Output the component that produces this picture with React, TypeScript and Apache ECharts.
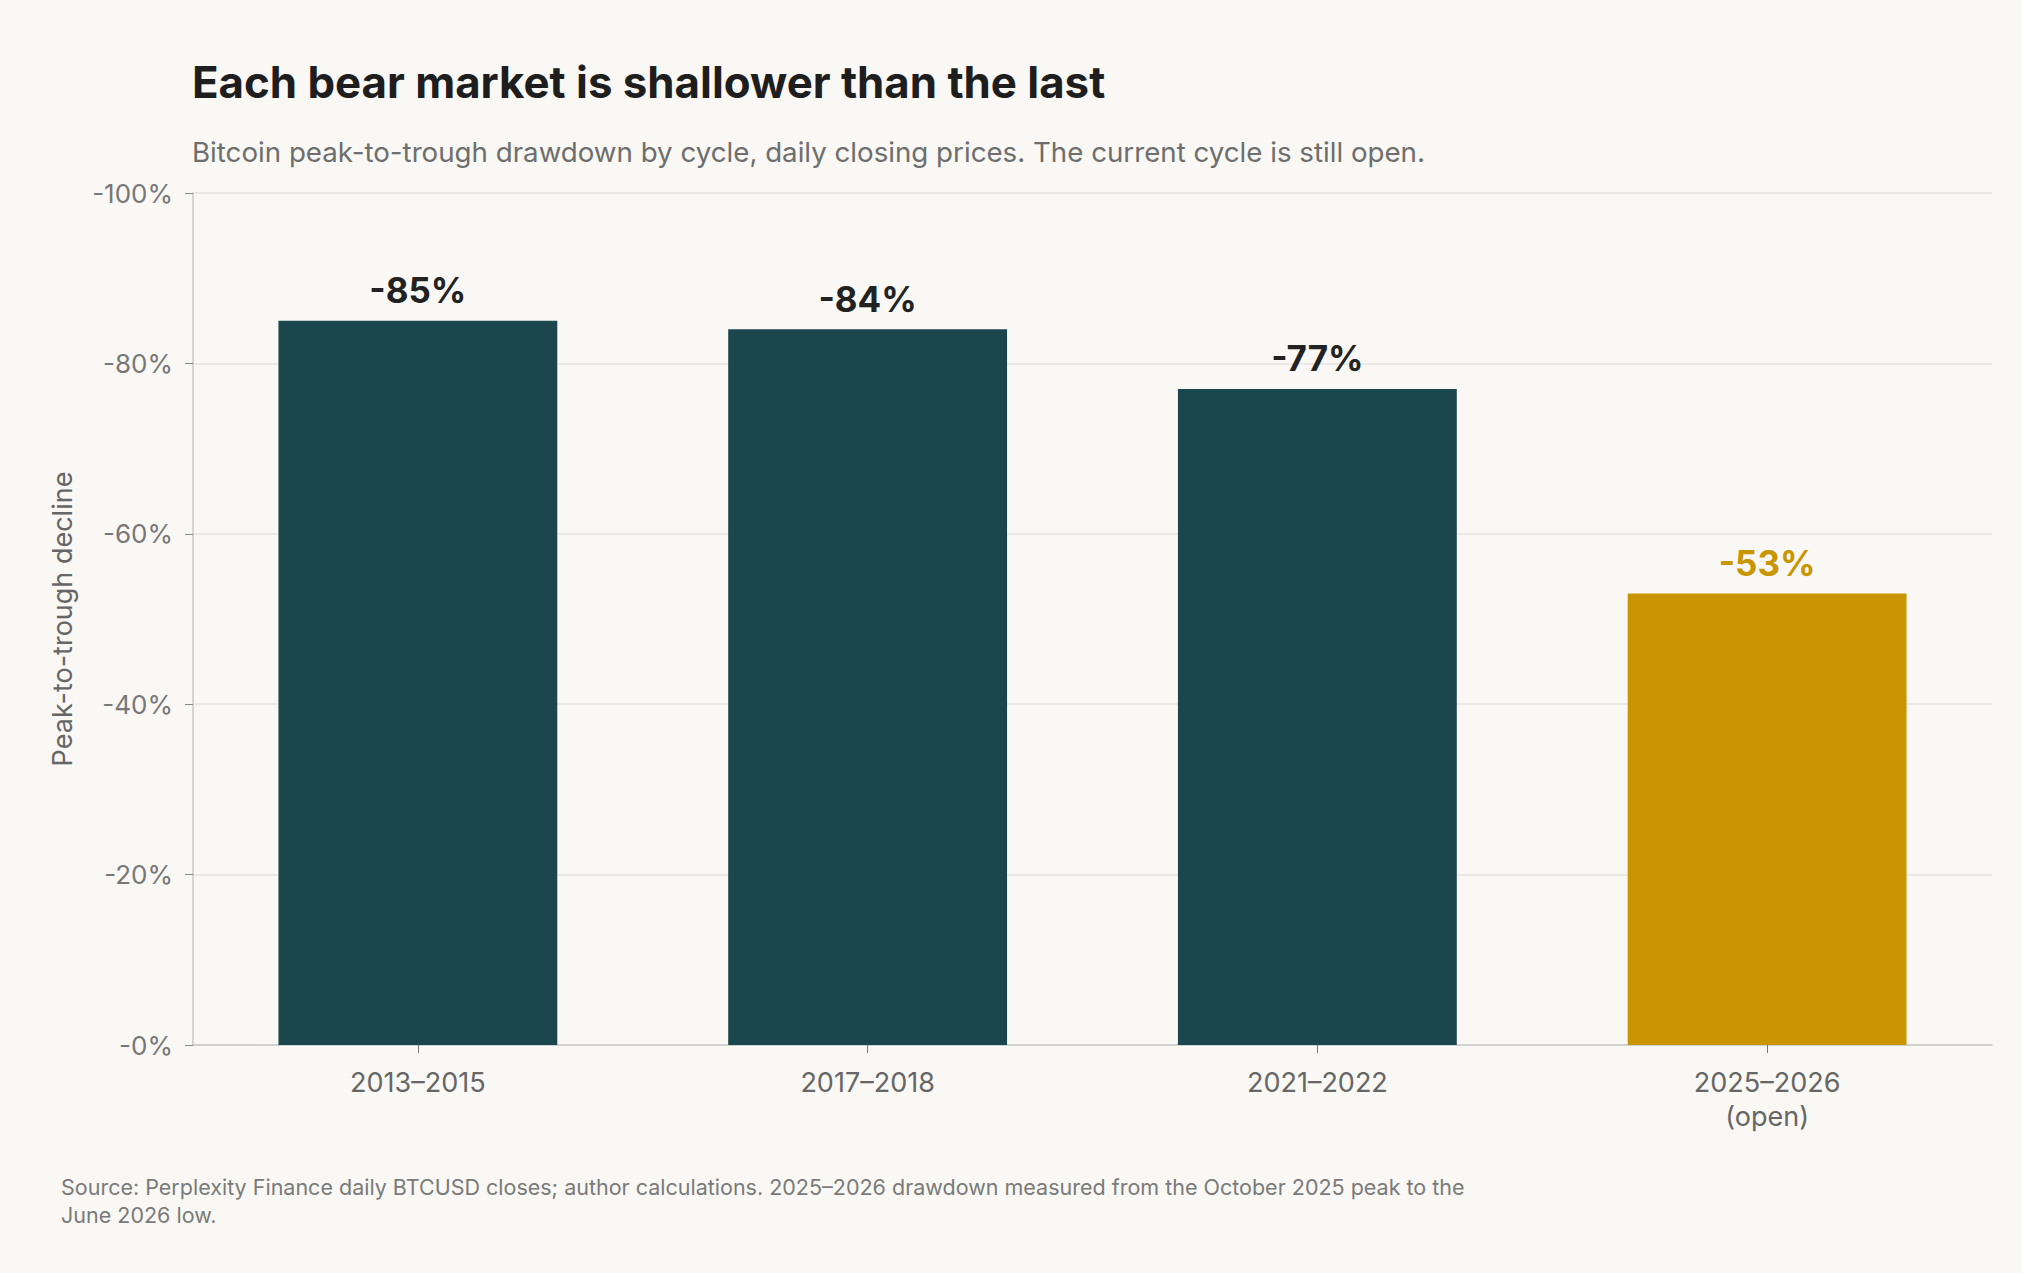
import React, { useEffect, useRef } from "react";
import * as echarts from "echarts";

const categories = ["2013–2015", "2017–2018", "2021–2022", "2025–2026\n(open)"];
const drawdownPct = [85, 84, 77, 53];
const isOpenCycle = [false, false, false, true];
const yTicks = [0, 20, 40, 60, 80, 100];

const titleText = "Each bear market is shallower than the last";
const subtitleText =
  "Bitcoin peak-to-trough drawdown by cycle, daily closing prices. The current cycle is still open.";
const sourceLines = [
  "Source: Perplexity Finance daily BTCUSD closes; author calculations. 2025–2026 drawdown measured from the October 2025 peak to the",
  "June 2026 low.",
];

const FONT = "Inter, 'DejaVu Sans', sans-serif";
const DARK = "#1C464E";
const GOLD = "#C99500";
const BG = "#F9F8F4";

export default function App() {
  const ref = useRef<HTMLDivElement>(null);
  useEffect(() => {
    if (!ref.current) return;
    const chart = echarts.init(ref.current, undefined, { renderer: "svg" });
    chart.setOption({
      animation: false,
      backgroundColor: BG,
      textStyle: { fontFamily: FONT },
      grid: { left: 193, right: 30, top: 193, bottom: 228, containLabel: false },
      xAxis: {
        type: "category",
        data: categories,
        axisLine: { show: true, lineStyle: { color: "#C8C8C8", width: 1.5 } },
        axisTick: { show: true, alignWithLabel: true, length: 8, lineStyle: { color: "#777" } },
        axisLabel: {
          color: "#666",
          fontSize: 27,
          fontFamily: FONT,
          margin: 20,
          lineHeight: 34,
        },
      },
      yAxis: {
        type: "value",
        min: 0,
        max: 100,
        interval: 20,
        name: "Peak-to-trough decline",
        nameLocation: "middle",
        nameGap: 117,
        nameRotate: 90,
        nameTextStyle: { color: "#666", fontSize: 27, fontFamily: FONT },
        axisLine: { show: true, lineStyle: { color: "#C8C8C8", width: 1.5 } },
        axisTick: { show: true, length: 8, lineStyle: { color: "#888" } },
        axisLabel: {
          color: "#777",
          fontSize: 26,
          fontFamily: FONT,
          margin: 20,
          formatter: (v: number) => (yTicks.includes(v) ? `-${v}%` : ""),
        },
        splitLine: { show: true, lineStyle: { color: "#E6E5E0", width: 1.5 } },
      },
      series: [
        {
          type: "bar",
          barCategoryGap: "38%",
          data: drawdownPct.map((v, i) => ({
            value: v,
            itemStyle: { color: isOpenCycle[i] ? GOLD : DARK },
            label: { color: isOpenCycle[i] ? GOLD : "#222" },
          })),
          label: {
            show: true,
            position: "top",
            distance: 13,
            fontSize: 35,
            fontWeight: "bold",
            fontFamily: FONT,
            formatter: (p: any) => `-${p.value}%`,
          },
        },
      ],
      graphic: [
        {
          type: "text",
          left: 192,
          top: 60,
          style: {
            text: titleText,
            fontSize: 43.8,
            fontWeight: "bold",
            fontFamily: FONT,
            fill: "#1E1E1E",
          },
        },
        {
          type: "text",
          left: 192,
          top: 138,
          style: {
            text: subtitleText,
            fontSize: 27.7,
            fontFamily: FONT,
            fill: "#6E6E6E",
          },
        },
        {
          type: "text",
          left: 61,
          top: 1173,
          style: {
            text: sourceLines.join("\n"),
            fontSize: 21.5,
            lineHeight: 28,
            fontFamily: FONT,
            fill: "#7A7A7A",
          },
        },
      ],
    });
    return () => chart.dispose();
  }, []);
  return (
    <div
      ref={ref}
      style={{ position: "fixed", left: 0, top: 0, width: 2022, height: 1273, background: BG }}
    />
  );
}
